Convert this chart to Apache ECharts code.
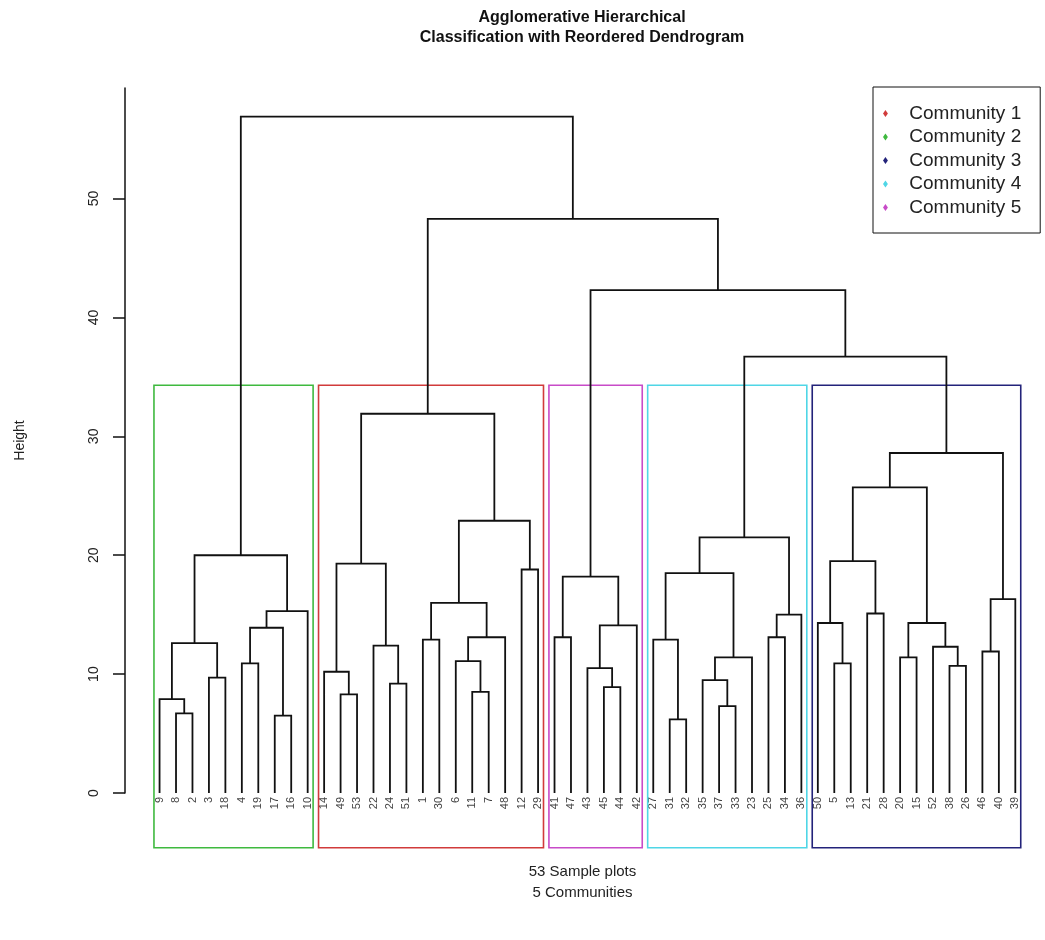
<!DOCTYPE html>
<html>
<head>
<meta charset="utf-8">
<title>Agglomerative Hierarchical Classification</title>
<script src="https://cdn.jsdelivr.net/npm/echarts@6/dist/echarts.min.js"></script>
<style>
  html, body { margin: 0; padding: 0; background: #fff; }
  #chart { width: 1045px; height: 940px; }
</style>
</head>
<body>
<div id="chart"></div>
<script>
// sample plots in the order they sit under the dendrogram
var leafOrder = [9, 8, 2, 3, 18, 4, 19, 17, 16, 10,
  14, 49, 53, 22, 24, 51, 1, 30, 6, 11, 7, 48, 12, 29,
  41, 47, 43, 45, 44, 42,
  27, 31, 32, 35, 37, 33, 23, 25, 34, 36,
  50, 5, 13, 21, 28, 20, 15, 52, 38, 26, 46, 40, 39];

// hclust style merge table: negative = sample plot, positive = earlier step (1-based)
var mergeLeft = [-17, -31, -8, -37, -9, -49, -11, -45, -24, -35,
  -3, -14, -43, -38, -5, -4, -6, -20, 10, -46,
  -52, -22, 5, -1, -27, -41, -25, 17, 16, 13,
  -50, 18, 27, -21, 29, 24, 20, 26, 25, -12,
  12, 31, 23, 39, 36, 42, 46, 41, 44, 38, 48, 43];
var mergeRight = [-16, -32, -2, -33, 3, -53, -7, -44, -51, 4,
  -18, 6, 8, -26, -13, -19, 7, -15, -23, -40,
  14, 9, 11, -30, 2, -47, -34, -48, 1, -42,
  15, 21, -36, -28, -10, 28, -39, 30, 19, -29,
  22, 34, 35, 33, 40, 32, 37, 45, 47, 49, 50, 51];
var mergeHeight = [6.5, 6.2, 6.7, 7.3, 7.9, 8.3, 8.5, 8.9, 9.2, 9.5,
  9.7, 10.2, 10.5, 10.7, 10.9, 10.9, 11.1, 11.4, 11.4, 11.9,
  12.3, 12.4, 12.6, 12.9, 12.9, 13.1, 13.1, 13.1, 13.9, 14.1,
  14.3, 14.3, 15.0, 15.1, 15.3, 16.0, 16.3, 18.2, 18.5, 18.8,
  19.3, 19.5, 20.0, 21.5, 22.9, 25.7, 28.6, 31.9, 36.7, 42.3, 48.3, 56.9];

// communities cut from the tree (first / last sample plot of each box)
var communityNames = ['Community 1', 'Community 2', 'Community 3', 'Community 4', 'Community 5'];
var communityColors = ['#d13b3b', '#3fb93f', '#23237a', '#4fd6e6', '#c84bc8'];
var communityFirst = [14, 9, 50, 27, 41];
var communityLast = [29, 10, 39, 36, 42];
var cutHeight = 34.3;
var boxBottom = -4.6;

var yTicks = [0, 10, 20, 30, 40, 50];

var FONT = 'Liberation Sans, Arial, sans-serif';

// positions of every merge from the table
var nodeX = [], nodeH = [];
function posOf(ref) {
  if (ref < 0) return [leafOrder.indexOf(-ref), 0];
  return [nodeX[ref - 1], nodeH[ref - 1]];
}
var treeData = [];
for (var i = 0; i < mergeHeight.length; i++) {
  var a = posOf(mergeLeft[i]), b = posOf(mergeRight[i]);
  nodeX.push((a[0] + b[0]) / 2);
  nodeH.push(mergeHeight[i]);
  treeData.push([a[0], a[1], b[0], b[1], mergeHeight[i]]);
}

var leafIdx = leafOrder.map(function (d, i) { return i; });

var series = communityNames.map(function (name, k) {
  var x0 = leafOrder.indexOf(communityFirst[k]) - 0.34;
  var x1 = leafOrder.indexOf(communityLast[k]) + 0.33;
  return {
    name: name,
    type: 'custom',
    itemStyle: { color: communityColors[k] },
    data: [[x0, x1]],
    renderItem: function (params, api) {
      var p0 = api.coord([api.value(0), cutHeight]);
      var p1 = api.coord([api.value(1), boxBottom]);
      return {
        type: 'rect',
        shape: { x: p0[0], y: p0[1], width: p1[0] - p0[0], height: p1[1] - p0[1] },
        style: { fill: null, stroke: communityColors[k], lineWidth: 1.6 }
      };
    }
  };
});

series.push({
  name: 'tree',
  type: 'custom',
  data: treeData,
  renderItem: function (params, api) {
    var xl = api.value(0), hl = api.value(1), xr = api.value(2), hr = api.value(3), h = api.value(4);
    return {
      type: 'polyline',
      shape: { points: [api.coord([xl, hl]), api.coord([xl, h]), api.coord([xr, h]), api.coord([xr, hr])] },
      style: { fill: null, stroke: '#111', lineWidth: 1.8 }
    };
  }
});

var chart = echarts.init(document.getElementById('chart'));
chart.setOption({
  animation: false,
  backgroundColor: '#fff',
  color: communityColors,
  graphic: [{
    type: 'text',
    x: 582, y: 8,
    style: {
      text: 'Agglomerative Hierarchical\nClassification with Reordered Dendrogram',
      textAlign: 'center',
      font: 'bold 16px ' + FONT,
      lineHeight: 20,
      fill: '#111'
    }
  }],
  legend: {
    data: communityNames,
    orient: 'vertical',
    left: 873, top: 87,
    padding: [17, 19, 16, 10],
    itemGap: 4.5,
    itemWidth: 6, itemHeight: 7,
    icon: 'path://M0,-1L0.7,0L0,1L-0.7,0Z',
    selectedMode: false,
    borderColor: '#111', borderWidth: 1,
    formatter: function (name) { return '   ' + name; },
    textStyle: { fontFamily: FONT, fontSize: 19, lineHeight: 18, color: '#222' }
  },
  grid: { left: 125, right: 5, top: 88, bottom: 147 },
  xAxis: {
    type: 'value',
    min: -2.1, max: 53.5,
    axisLine: { show: false },
    axisTick: { show: false },
    splitLine: { show: false },
    axisLabel: {
      customValues: leafIdx,
      rotate: 90,
      margin: 4,
      fontFamily: FONT, fontSize: 11, color: '#444',
      formatter: function (v) {
        var d = leafOrder[Math.round(v)];
        return d == null ? '' : String(d);
      }
    },
    name: '53 Sample plots\n5 Communities',
    nameLocation: 'middle',
    nameGap: 68,
    nameTextStyle: { fontFamily: FONT, fontSize: 15, lineHeight: 21, color: '#222' }
  },
  yAxis: {
    type: 'value',
    min: 0, max: 59.3,
    axisLine: { show: true, onZero: false, lineStyle: { color: '#111', width: 1.5 } },
    axisTick: { show: true, length: 12, customValues: yTicks, lineStyle: { color: '#111', width: 1.5 } },
    splitLine: { show: false },
    axisLabel: {
      customValues: yTicks,
      rotate: 90,
      margin: 24,
      fontFamily: FONT, fontSize: 14, color: '#222'
    },
    name: 'Height',
    nameLocation: 'middle',
    nameGap: 98,
    nameRotate: 90,
    nameTextStyle: { fontFamily: FONT, fontSize: 14, color: '#222' }
  },
  series: series
});
</script>
</body>
</html>
